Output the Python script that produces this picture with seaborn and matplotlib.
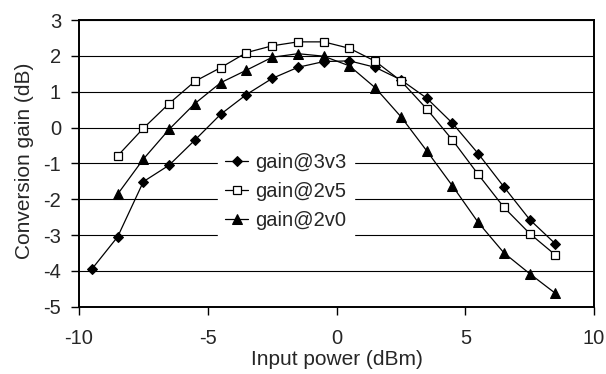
import matplotlib
matplotlib.use("Agg")
import matplotlib.pyplot as plt
import seaborn as sns
import pandas as pd

input_power = [-9.5, -8.5, -7.5, -6.5, -5.5, -4.5, -3.5, -2.5, -1.5, -0.5,
               0.5, 1.5, 2.5, 3.5, 4.5, 5.5, 6.5, 7.5, 8.5]
gain_3v3 = [-3.95, -3.05, -1.51, -1.05, -0.35, 0.37, 0.92, 1.37, 1.68, 1.84,
            1.86, 1.68, 1.33, 0.82, 0.12, -0.73, -1.66, -2.57, -3.25]
x_2v = input_power[1:]
gain_2v5 = [-0.79, -0.02, 0.67, 1.29, 1.67, 2.09, 2.28, 2.39, 2.39,
            2.21, 1.85, 1.30, 0.52, -0.35, -1.31, -2.23, -2.96, -3.56]
gain_2v0 = [-1.86, -0.88, -0.05, 0.67, 1.25, 1.60, 1.96, 2.06, 1.99,
            1.72, 1.11, 0.30, -0.65, -1.63, -2.65, -3.50, -4.08, -4.63]

series = ["gain@3v3", "gain@2v5", "gain@2v0"]
xticks = [-10, -5, 0, 5, 10]
yticks = [-5, -4, -3, -2, -1, 0, 1, 2, 3]

df = pd.concat([
    pd.DataFrame({"x": input_power, "y": gain_3v3, "s": series[0]}),
    pd.DataFrame({"x": x_2v, "y": gain_2v5, "s": series[1]}),
    pd.DataFrame({"x": x_2v, "y": gain_2v0, "s": series[2]}),
])

sns.set_theme(style="white")
plt.rcParams["font.family"] = ["Liberation Sans", "DejaVu Sans"]

fig = plt.figure(figsize=(6.06, 3.74), dpi=100)
ax = fig.add_axes([0.1304, 0.180, 0.850, 0.7665])

styles = {
    "gain@3v3": dict(marker="D", markersize=5, markerfacecolor="black", markeredgecolor="black"),
    "gain@2v5": dict(marker="s", markersize=5.5, markerfacecolor="white", markeredgecolor="black", markeredgewidth=0.9),
    "gain@2v0": dict(marker="^", markersize=6.5, markerfacecolor="black", markeredgecolor="black"),
}
for s in series:
    sub = df[df["s"] == s]
    sns.lineplot(data=sub, x="x", y="y", ax=ax, color="black", linewidth=0.9,
                 label=s, zorder=3, **styles[s])

ax.set_xlim(-10, 10)
ax.set_ylim(-5, 3)
ax.set_xticks(xticks)
ax.set_yticks(yticks)
ax.set_xticklabels([str(t) for t in xticks], fontsize=14.5)
ax.set_yticklabels([str(t) for t in yticks], fontsize=14.5)
ax.yaxis.grid(True, color="black", linewidth=0.8)
ax.set_axisbelow(True)
for sp in ax.spines.values():
    sp.set_color("black")
    sp.set_linewidth(1.4)
ax.tick_params(axis="both", direction="out", length=6, width=1, color="black",
               bottom=True, left=True)
ax.tick_params(axis="x", pad=10)
ax.tick_params(axis="y", pad=7)
ax.set_xlabel("Input power (dBm)", fontsize=15)
ax.set_ylabel("Conversion gain (dB)", fontsize=15)
ax.xaxis.set_label_coords(0.5, -0.152)
ax.yaxis.set_label_coords(-0.087, 0.51)

leg = ax.legend(loc="upper left", bbox_to_anchor=(0.27, 0.56), frameon=True,
                fontsize=14.5, handlelength=1.15, handletextpad=0.35,
                labelspacing=0.5, borderpad=0.35, borderaxespad=0,
                fancybox=False)
leg.get_frame().set_facecolor("white")
leg.get_frame().set_edgecolor("white")
leg.get_frame().set_alpha(1)

fig.savefig("out.png", dpi=100)
